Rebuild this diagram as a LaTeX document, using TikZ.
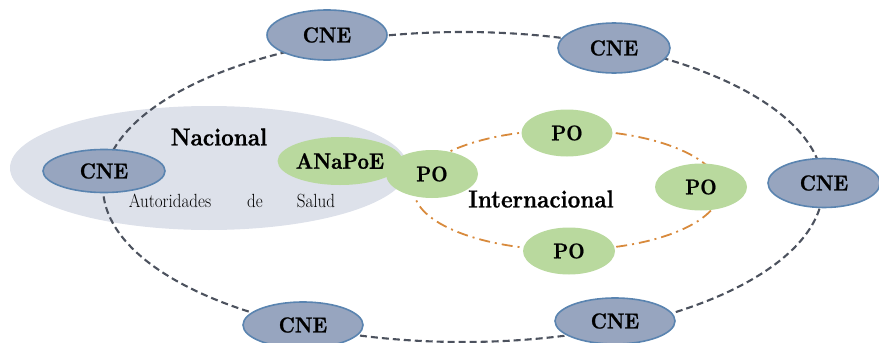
\documentclass[tikz,border=0pt]{standalone}
\usepackage{fontspec}
\newfontface\heavyface{lmroman10-bold.otf}[FakeBold=0.8]
\usetikzlibrary{shapes.geometric}
\newcommand\tallbox[1]{\scalebox{1}[1.12]{#1}}
\begin{document}
\begin{tikzpicture}[x=1pt,y=-1pt,
  cnebox/.style={ellipse,fill=cnefill,draw=cneborder,line width=1.6pt,inner sep=0pt,
     font=\heavyface\fontsize{19.5}{22}\selectfont},
  pobox/.style={ellipse,fill=pofill,inner sep=0pt,font=\heavyface\fontsize{19}{22}\selectfont},
  lbl/.style={inner sep=0pt,font=\heavyface\fontsize{22}{26}\selectfont},
  small/.style={inner sep=0pt,font=\fontsize{17}{20}\selectfont}]
\definecolor{cnefill}{HTML}{97A5BF}
\definecolor{cneborder}{HTML}{5A84B0}
\definecolor{pofill}{HTML}{B9D99E}
\definecolor{grayfill}{HTML}{DDE1EA}
\definecolor{ringgray}{HTML}{4C525E}
\definecolor{ringorange}{HTML}{D88A3C}
\useasboundingbox (0,0) rectangle (879,343);
\coordinate (nacc) at (209,168);
\coordinate (ringc) at (463,187);
\coordinate (intc) at (567,190);
% national area
\fill[grayfill] (nacc) ellipse [x radius=199, y radius=62];
% outer ring
\draw[ringgray,line width=2.1pt,dash pattern=on 7pt off 4pt] (ringc) ellipse [x radius=360, y radius=155];
% international ring
\draw[ringorange,line width=1.8pt,dash pattern=on 11pt off 5pt on 2pt off 5pt] (intc) ellipse [x radius=153, y radius=60];
% CNE nodes
\node[cnebox,minimum width=120pt,minimum height=50pt] (cne1) at (327,35) {\tallbox{CNE}};
\node[cnebox,minimum width=112pt,minimum height=50pt] (cne2) at (614,48) {\tallbox{CNE}};
\node[cnebox,minimum width=122pt,minimum height=43pt] (cne3) at (104,171) {\tallbox{CNE}};
\node[cnebox,minimum width=112pt,minimum height=49pt] (cne4) at (824,183) {\tallbox{CNE}};
\node[cnebox,minimum width=120pt,minimum height=46pt] (cne5) at (303,325) {\tallbox{CNE}};
\node[cnebox,minimum width=120pt,minimum height=46pt] (cne6) at (615,321) {\tallbox{CNE}};
% ANaPoE and PO
\node[pobox,minimum width=118pt,minimum height=48pt,font=\heavyface\fontsize{20}{24}\selectfont] (anapoe) at (340,161) {\tallbox{ANaPoE}};
\node[pobox,minimum width=92pt,minimum height=48pt] (po1) at (432,174) {\tallbox{PO}};
\node[pobox,minimum width=91pt,minimum height=47pt] (po2) at (567,133) {\tallbox{PO}};
\node[pobox,minimum width=92pt,minimum height=47pt] (po3) at (701,187) {\tallbox{PO}};
\node[pobox,minimum width=92pt,minimum height=47pt] (po4) at (569,251) {\tallbox{PO}};
% labels
\node[lbl] (nac) at (219,137) {\tallbox{Nacional}};
\node[lbl] (int) at (541,199) {\tallbox{Internacional}};
\node[small] (aut) at (170,201) {\tallbox{Autoridades}};
\node[small] (de) at (255,201) {\tallbox{de}};
\node[small] (sal) at (316,201) {\tallbox{Salud}};
\end{tikzpicture}
\end{document}
